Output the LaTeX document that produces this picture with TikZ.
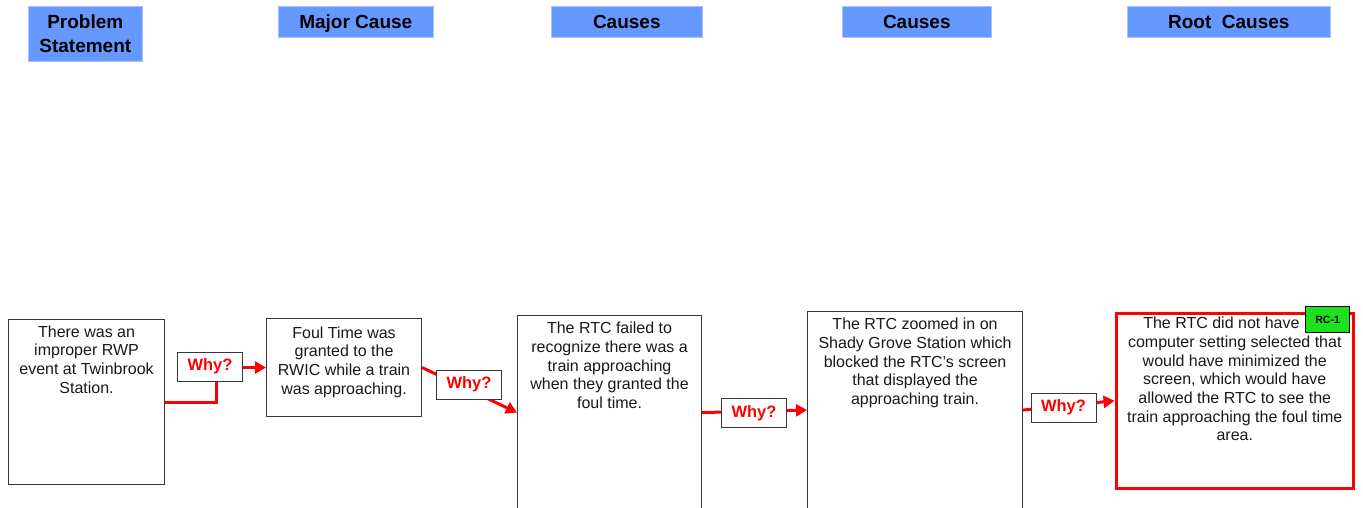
\documentclass[tikz,border=0pt]{standalone}
\usepackage{fontspec}
\setmainfont{Liberation Sans}
\usetikzlibrary{arrows.meta}
\definecolor{hdr}{RGB}{102,153,255}
\definecolor{rcgreen}{RGB}{30,225,30}
\definecolor{boxline}{RGB}{55,55,55}
\definecolor{txt}{RGB}{25,25,25}
\begin{document}
\begin{tikzpicture}[x=1pt,y=-1pt,
  hdrbox/.style={fill=hdr, draw=hdr!60!white, line width=0.6pt, inner sep=0pt, anchor=north west,
    font=\fontsize{19}{23.5}\selectfont\bfseries, align=center},
  hdrone/.style={hdrbox, text height=15pt, text depth=1pt},
  causebox/.style={draw=boxline, line width=1.1pt, fill=white, inner sep=0pt, anchor=north west},
  rootbox/.style={draw=red, line width=3.5pt, fill=white, inner sep=0pt, anchor=north west},
  bodytext/.style={font=\fontsize{16}{18.7}\selectfont, text=txt, align=center, anchor=north, inner sep=0pt},
  whybox/.style={draw=boxline, line width=1pt, fill=white, inner sep=0pt, minimum width=65, minimum height=29,
    font=\fontsize{16.5}{18}\selectfont\bfseries, text=red},
  rcbox/.style={draw=black, line width=1.2pt, fill=rcgreen, inner sep=0pt, anchor=north west,
    minimum width=44, minimum height=26, font=\fontsize{10.5}{12}\selectfont\bfseries},
  conn/.style={draw=red, line width=3pt, -{Triangle[length=11pt,width=12pt]}}
]
\useasboundingbox (0,0) rectangle (1363,508);
\clip (0,0) rectangle (1363,508);

% headers
\node[hdrbox, minimum width=114, minimum height=55] (h1) at (28,6) {Problem\\Statement};
\node[hdrone, minimum width=155, minimum height=31] (h2) at (278,6) {Major Cause};
\node[hdrone, minimum width=151, minimum height=31] (h3) at (551,6) {Causes};
\node[hdrone, minimum width=149, minimum height=31] (h4) at (842,6) {Causes};
\node[hdrone, minimum width=203, minimum height=31] (h5) at (1127,6) {Root~ Causes};

% boxes
\node[causebox, minimum width=156, minimum height=165] (b1) at (8,319) {};
\node[causebox, minimum width=155, minimum height=98] (b2) at (266,318) {};
\node[causebox, minimum width=184, minimum height=194] (b3) at (517,315) {};
\node[causebox, minimum width=215, minimum height=197] (b4) at (807,311) {};
\node[rootbox, minimum width=237, minimum height=175] (b5) at (1114.5,311.5) {};

% connectors
\coordinate (c1x) at (216,0);
\draw[conn] (b1.east) -- (b1.east -| c1x) -- (b2.west -| c1x) -- (b2.west);
\draw[conn] (b2.east) -- (b3.west);
\draw[conn] (b3.east) -- (b4.west);
\draw[conn] (b4.east) -- (b5.west);

% why boxes
\node[whybox] (w1) at (210,366.5) {Why?};
\node[whybox] (w2) at (469,384.5) {Why?};
\node[whybox] (w3) at (754,413) {Why?};
\node[whybox] (w4) at (1063.5,407.5) {Why?};

% texts
\node[bodytext] (t1) at ([yshift=-6.5pt]b1.north) {There was an\\improper RWP\\event at Twinbrook\\Station.};
\node[bodytext] (t2) at ([yshift=-8.5pt]b2.north) {Foul Time was\\granted to the\\RWIC while a train\\was approaching.};
\node[bodytext] (t3) at ([yshift=-7pt]b3.north) {The RTC failed to\\recognize there was a\\train approaching\\when they granted the\\foul time.};
\node[bodytext] (t4) at ([yshift=-7pt]b4.north) {The RTC zoomed in on\\Shady Grove Station which\\blocked the RTC’s screen\\that displayed the\\approaching train.};
\node[bodytext] (t5) at ([yshift=-5.5pt]b5.north) {The RTC did not have\phantom{ the}\\computer setting selected that\\would have minimized the\\screen, which would have\\allowed the RTC to see the\\train approaching the foul time\\area.};

% root cause tag
\node[rcbox] (rc) at (1305,306) {RC-1};
\end{tikzpicture}
\end{document}
